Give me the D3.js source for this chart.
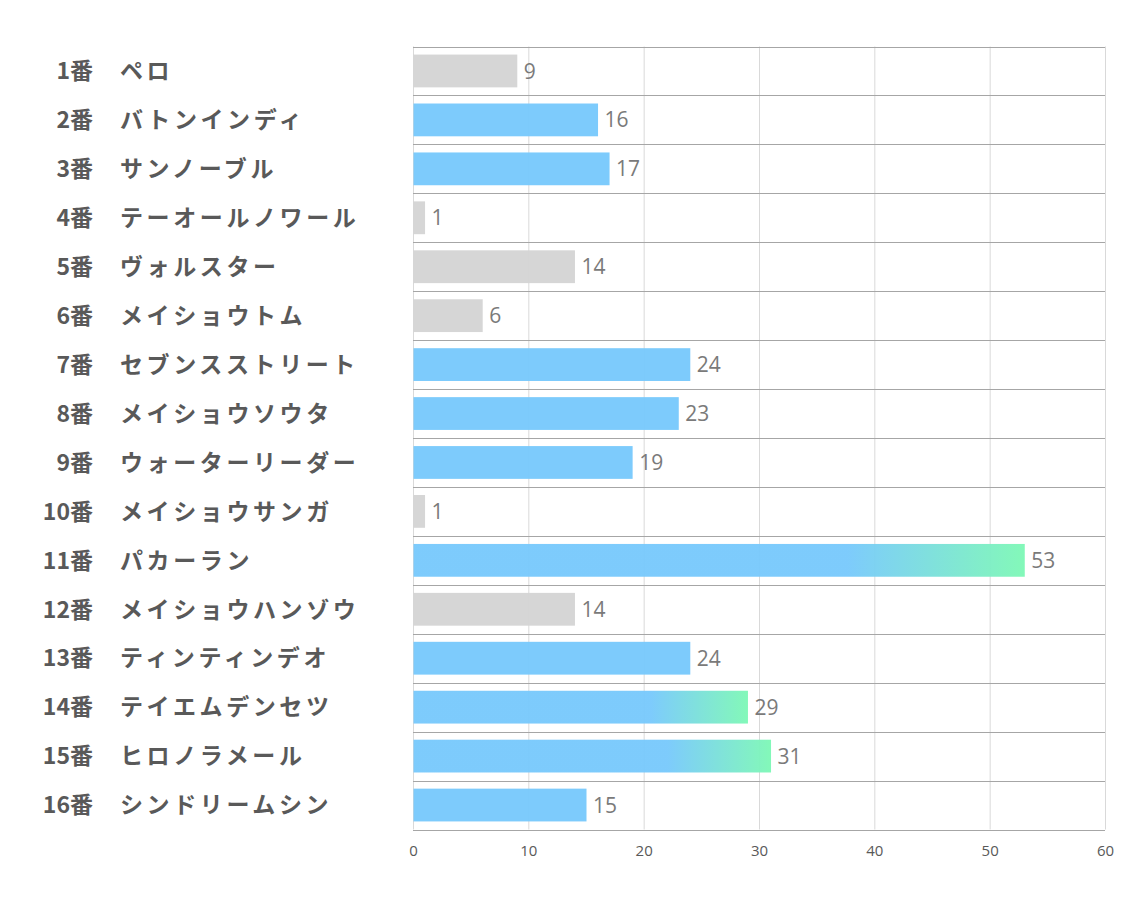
<!DOCTYPE html>
<html><head><meta charset="utf-8">
<script src="https://cdn.jsdelivr.net/npm/d3@7"></script>
<style>body{margin:0;background:#fff}</style></head>
<body><svg id="c" width="1134" height="907"></svg>
<script>
const numbers = ["1番","2番","3番","4番","5番","6番","7番","8番","9番","10番","11番","12番","13番","14番","15番","16番"];
const names = ["ペロ","バトンインディ","サンノーブル","テーオールノワール","ヴォルスター","メイショウトム","セブンスストリート","メイショウソウタ","ウォーターリーダー","メイショウサンガ","パカーラン","メイショウハンゾウ","ティンティンデオ","テイエムデンセツ","ヒロノラメール","シンドリームシン"];
const values = [9,16,17,1,14,6,24,23,19,1,53,14,24,29,31,15];
const xTicks = [0,10,20,30,40,50,60];

const svg = d3.select("#c");
const m = {left:413, right:1105, top:46.5, bottom:829.5};
const x = d3.scaleLinear().domain([0,60]).range([m.left,m.right]);
const y = d3.scaleBand().domain(d3.range(values.length)).range([m.top,m.bottom]).paddingInner(0.33).paddingOuter(0.165);
const rowY = d3.scaleBand().domain(d3.range(values.length)).range([m.top,m.bottom]);

const defs = svg.append("defs");
values.forEach((v,i)=>{
  if(v>=29){
    const g = defs.append("linearGradient").attr("id","g"+i).attr("x1","0%").attr("x2","100%");
    g.append("stop").attr("offset","71%").attr("stop-color","#78c9fc");
    g.append("stop").attr("offset","100%").attr("stop-color","#7ef8b6");
  }
});

// vertical gridlines
svg.append("g").selectAll("line").data(xTicks).join("line")
  .attr("x1",d=>x(d)+0.5).attr("x2",d=>x(d)+0.5).attr("y1",m.top).attr("y2",m.bottom)
  .attr("stroke","#d9d9d9").attr("stroke-width",1);
// horizontal row lines
svg.append("g").selectAll("line").data(d3.range(values.length+1)).join("line")
  .attr("x1",m.left).attr("x2",m.right)
  .attr("y1",d=>Math.round(m.top+d*rowY.step())+0.5).attr("y2",d=>Math.round(m.top+d*rowY.step())+0.5)
  .attr("stroke","#a6a6a6").attr("stroke-width",1);

// bars
svg.append("g").selectAll("rect").data(values).join("rect")
  .attr("x",x(0)+0.5).attr("y",(d,i)=>y(i)).attr("height",y.bandwidth())
  .attr("width",d=>x(d)-x(0))
  .attr("fill",(d,i)=> d<15 ? "#d4d4d4" : (d>=29 ? `url(#g${i})` : "#78c9fc"))
  .attr("fill-opacity",0.96);

// value labels
svg.append("g").selectAll("text").data(values).join("text")
  .attr("x",d=>x(d)+7).attr("y",(d,i)=>y(i)+y.bandwidth()/2)
  .attr("dy","0.36em").attr("font-family","'Open Sans','Noto Sans',sans-serif")
  .attr("font-size",21).attr("fill","#7a7a7a").text(d=>d);

// left labels
const lab = svg.append("g").attr("font-family","'Noto Sans CJK JP',sans-serif").attr("font-weight","bold").attr("fill","#595959");
lab.selectAll("text.n").data(numbers).join("text").attr("class","n")
  .attr("x",93).attr("y",(d,i)=>rowY(i)+rowY.step()/2).attr("dy","0.36em").attr("font-size",23)
  .attr("text-anchor","end").text(d=>d);
lab.selectAll("text.m").data(names).join("text").attr("class","m")
  .attr("x",120).attr("y",(d,i)=>rowY(i)+rowY.step()/2).attr("dy","0.36em").attr("font-size",23)
  .attr("letter-spacing",3.6).text(d=>d);

// x axis
const ax = svg.append("g").attr("transform",`translate(0,${m.bottom})`)
  .call(d3.axisBottom(x).tickValues(xTicks).tickSize(0).tickPadding(16));
ax.select(".domain").remove();
ax.selectAll("text").attr("font-family","'Open Sans','Noto Sans',sans-serif").attr("font-size",15).attr("fill","#595959");
</script></body></html>
